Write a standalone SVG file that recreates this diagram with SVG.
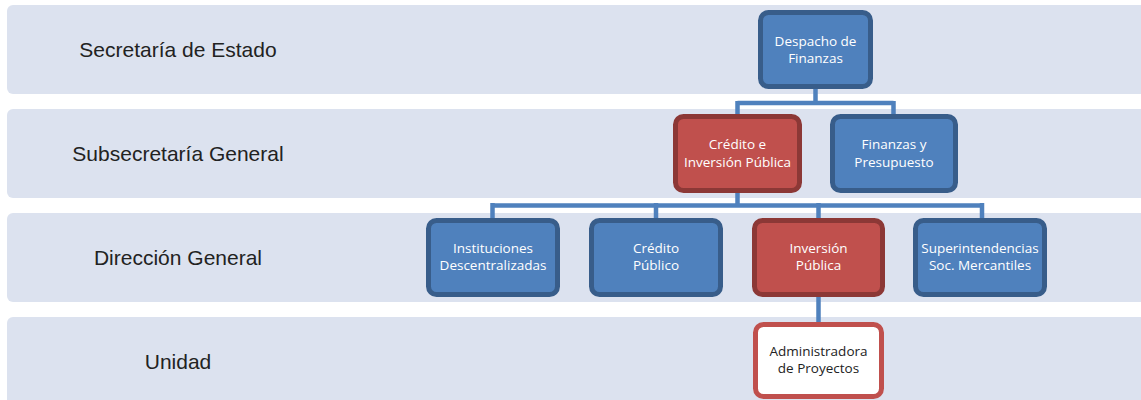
<svg xmlns="http://www.w3.org/2000/svg" width="1141" height="400" viewBox="0 0 1141 400">
<style>
.band{fill:#DCE2EF}
.lvl{font-family:"Liberation Sans",Arial,sans-serif;font-size:21px;fill:#222;text-anchor:middle}
.blue{fill:#4F81BD;stroke:#385D8A;stroke-width:5}
.red{fill:#C0504D;stroke:#8C3836;stroke-width:5}
.white{fill:#FFFFFF;stroke:#C0504D;stroke-width:5}
.nt{font-family:"Open Sans","Noto Sans",sans-serif;font-size:13.5px;fill:#FFFFFF;text-anchor:middle}
.dk{fill:#222}
.conn{fill:none;stroke:#4F81BD;stroke-width:4.5}
</style>
<rect width="1141" height="400" fill="#FFFFFF"/>
<g id="bands">
<rect class="band" x="7" y="5" width="1150" height="89" rx="6"/>
<rect class="band" x="7" y="109" width="1150" height="89" rx="6"/>
<rect class="band" x="7" y="213" width="1150" height="89" rx="6"/>
<rect class="band" x="7" y="317" width="1150" height="95" rx="6"/>
<text class="lvl" x="178" y="57">Secretaría de Estado</text>
<text class="lvl" x="178" y="161">Subsecretaría General</text>
<text class="lvl" x="178" y="265">Dirección General</text>
<text class="lvl" x="178" y="369">Unidad</text>
</g>
<g id="connectors">
<path class="conn" d="M815.5 89 V103 M737.5 103 H893.5 M737.5 101 V114 M893.5 101 V114"/>
<path class="conn" d="M737.5 193 V205.5 M492.5 205.5 H982 M492.5 203 V218 M656 203 V218 M818.5 203 V218 M982 203 V218"/>
<path class="conn" d="M818.5 297 V322"/>
</g>
<g id="despacho">
<rect class="blue" x="760.5" y="12.5" width="110" height="74" rx="8"/>
<text class="nt" x="815.5" y="46">Despacho de</text>
<text class="nt" x="815.5" y="63">Finanzas</text>
</g>
<g id="credito-inversion">
<rect class="red" x="675.5" y="116.5" width="124" height="74" rx="8"/>
<text class="nt" x="737.5" y="149">Crédito e</text>
<text class="nt" x="737.5" y="166.5">Inversión Pública</text>
</g>
<g id="finanzas-presupuesto">
<rect class="blue" x="832.5" y="116.5" width="123" height="74" rx="8"/>
<text class="nt" x="894" y="149">Finanzas y</text>
<text class="nt" x="894" y="166.5">Presupuesto</text>
</g>
<g id="instituciones">
<rect class="blue" x="428.5" y="220.5" width="129" height="74" rx="8"/>
<text class="nt" x="493" y="252.5">Instituciones</text>
<text class="nt" x="493" y="270">Descentralizadas</text>
</g>
<g id="credito-publico">
<rect class="blue" x="591.5" y="220.5" width="129" height="74" rx="8"/>
<text class="nt" x="656" y="252.5">Crédito</text>
<text class="nt" x="656" y="270">Público</text>
</g>
<g id="inversion-publica">
<rect class="red" x="754.5" y="220.5" width="128" height="74" rx="8"/>
<text class="nt" x="818.5" y="252.5">Inversión</text>
<text class="nt" x="818.5" y="270">Pública</text>
</g>
<g id="superintendencias">
<rect class="blue" x="915.5" y="220.5" width="129" height="74" rx="8"/>
<text class="nt" x="980" y="252.5">Superintendencias</text>
<text class="nt" x="980" y="270">Soc. Mercantiles</text>
</g>
<g id="administradora">
<rect class="white" x="755.5" y="324.5" width="126" height="72" rx="8"/>
<text class="nt dk" x="818.5" y="355.5">Administradora</text>
<text class="nt dk" x="818.5" y="373">de Proyectos</text>
</g>
</svg>
